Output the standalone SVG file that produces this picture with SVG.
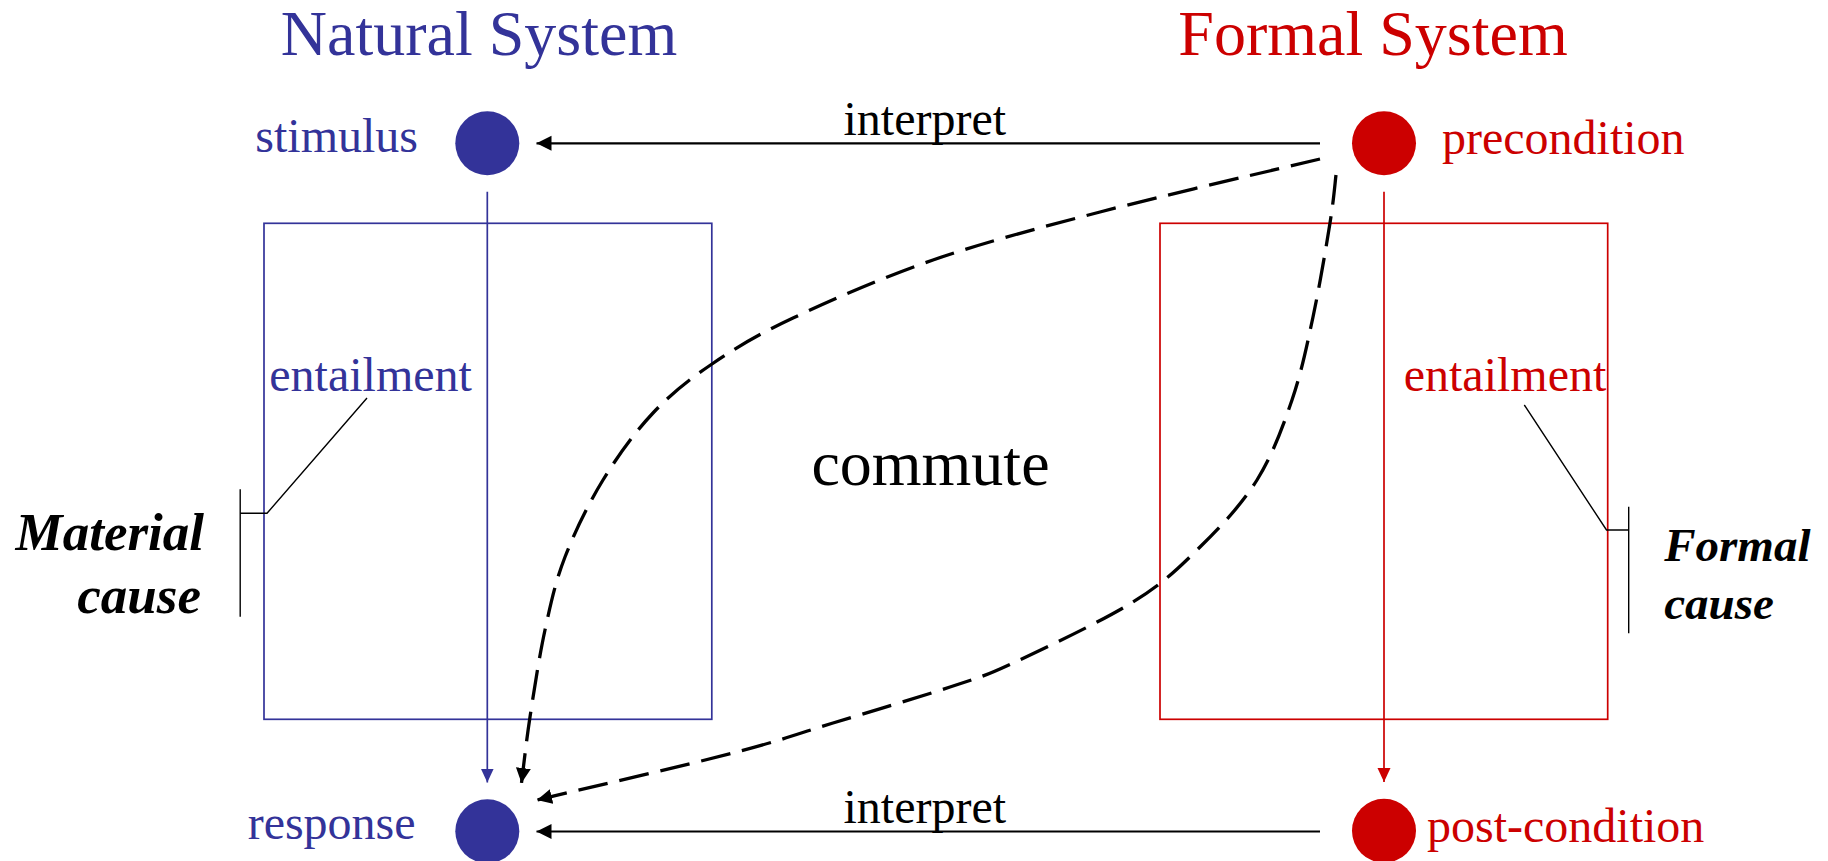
<svg xmlns="http://www.w3.org/2000/svg" width="1828" height="861" viewBox="0 0 1828 861">
<style>
text{font-family:"Liberation Serif","Times New Roman",serif}
.t48{font-size:48px}
.big{font-size:64px}
.cause{font-weight:bold;font-style:italic;fill:#000}
.mc{font-size:53px}
.fc{font-size:47px}
.blue{fill:#333399}
.red{fill:#CC0000}
.bbox{fill:none;stroke:#333399;stroke-width:1.7}
.rbox{fill:none;stroke:#CC0000;stroke-width:1.7}
.interp{stroke:#000;stroke-width:2.2;fill:none}
.dash{stroke:#000;stroke-width:3.3;fill:none;stroke-dasharray:30 12}
.lead{stroke:#000;stroke-width:1.4;fill:none}
</style>
<defs>
<marker id="ak" markerUnits="userSpaceOnUse" markerWidth="16" markerHeight="16" refX="15" refY="7.5" orient="auto"><path d="M0,0 L15,7.5 L0,15 z" fill="#000"/></marker>
<marker id="ab" markerUnits="userSpaceOnUse" markerWidth="16" markerHeight="16" refX="14" refY="6.5" orient="auto"><path d="M0,0 L14,6.5 L0,13 z" fill="#333399"/></marker>
<marker id="ar" markerUnits="userSpaceOnUse" markerWidth="16" markerHeight="16" refX="14" refY="6.5" orient="auto"><path d="M0,0 L14,6.5 L0,13 z" fill="#CC0000"/></marker>
</defs>

<g id="titles">
<text class="big blue" x="479" y="55" text-anchor="middle">Natural System</text>
<text class="big red" x="1373" y="55" text-anchor="middle">Formal System</text>
</g>

<g id="natural-box">
<rect class="bbox" x="264" y="223.3" width="447.8" height="496"/>
<text class="t48 blue" x="269.3" y="390.7">entailment</text>
</g>

<g id="formal-box">
<rect class="rbox" x="1160" y="223.3" width="447.7" height="496"/>
<text class="t48 red" x="1403.7" y="390.7">entailment</text>
</g>

<g id="stimulus">
<circle cx="487.3" cy="143.3" r="32" fill="#333399"/>
<text class="t48 blue" x="418" y="152" text-anchor="end">stimulus</text>
</g>

<g id="response">
<circle cx="487.3" cy="831.3" r="32" fill="#333399"/>
<text class="t48 blue" x="415.6" y="838.5" text-anchor="end">response</text>
</g>

<g id="precondition">
<circle cx="1384" cy="143.3" r="32" fill="#CC0000"/>
<text class="t48 red" x="1442" y="154">precondition</text>
</g>

<g id="postcondition">
<circle cx="1384" cy="830.8" r="32" fill="#CC0000"/>
<text class="t48 red" x="1427" y="841.7">post-condition</text>
</g>

<g id="commute">
<text class="big" x="811.4" y="485" fill="#000">commute</text>
</g>

<g id="material-cause">
<polyline class="lead" points="367,398 267,513.3 240.2,513.3"/>
<line class="lead" x1="240.2" y1="489.3" x2="240.2" y2="616.7"/>
<text class="cause mc" x="204" y="550" text-anchor="end">Material</text>
<text class="cause mc" x="201" y="613.3" text-anchor="end">cause</text>
</g>

<g id="formal-cause">
<polyline class="lead" points="1524.3,405 1606.5,530 1628.7,530"/>
<line class="lead" x1="1628.7" y1="506.7" x2="1628.7" y2="633.3"/>
<text class="cause fc" x="1664.2" y="560.7">Formal</text>
<text class="cause fc" x="1664.2" y="619.3">cause</text>
</g>

<g id="connectors">
<line x1="487.3" y1="191.7" x2="487.3" y2="782.5" stroke="#333399" stroke-width="1.7" marker-end="url(#ab)"/>
<line x1="1384" y1="191.7" x2="1384" y2="782" stroke="#CC0000" stroke-width="1.7" marker-end="url(#ar)"/>
<line class="interp" x1="1320" y1="143.3" x2="536.5" y2="143.3" marker-end="url(#ak)"/>
<line class="interp" x1="1320" y1="831.5" x2="536.5" y2="831.5" marker-end="url(#ak)"/>
<text class="t48" x="843.5" y="135" fill="#000">interpret</text>
<text class="t48" x="843.5" y="823.3" fill="#000">interpret</text>
<path class="dash" d="M1320,159 C1283.3,167.8 1164.5,195.2 1100,212 C1035.5,228.8 984.2,242.3 933,260 C881.8,277.7 829.8,300.7 793,318 C756.2,335.3 735.3,348.2 712,364 C688.7,379.8 671.2,393.7 653,413 C634.8,432.3 617.7,456 603,480 C588.3,504 574.7,532 565,557 C555.3,582 550.8,603.3 545,630 C539.2,656.7 533.9,691.5 530,717 C526.1,742.5 522.9,772 521.5,783" marker-end="url(#ak)"/>
<path class="dash" d="M1336,175 C1335,183 1333.8,199.3 1330,223 C1326.2,246.7 1319.3,287.5 1313,317 C1306.7,346.5 1301.3,372.8 1292,400 C1282.7,427.2 1272.3,455.5 1257,480 C1241.7,504.5 1220.7,526.7 1200,547 C1179.3,567.3 1164.2,582.7 1133,602 C1101.8,621.3 1043.5,648.8 1013,663 C982.5,677.2 980,677 950,687 C920,697 869.2,712 833,723 C796.8,734 782.3,740.2 733,753 C683.7,765.8 569.7,792.2 537,800" marker-end="url(#ak)"/>
</g>
</svg>
